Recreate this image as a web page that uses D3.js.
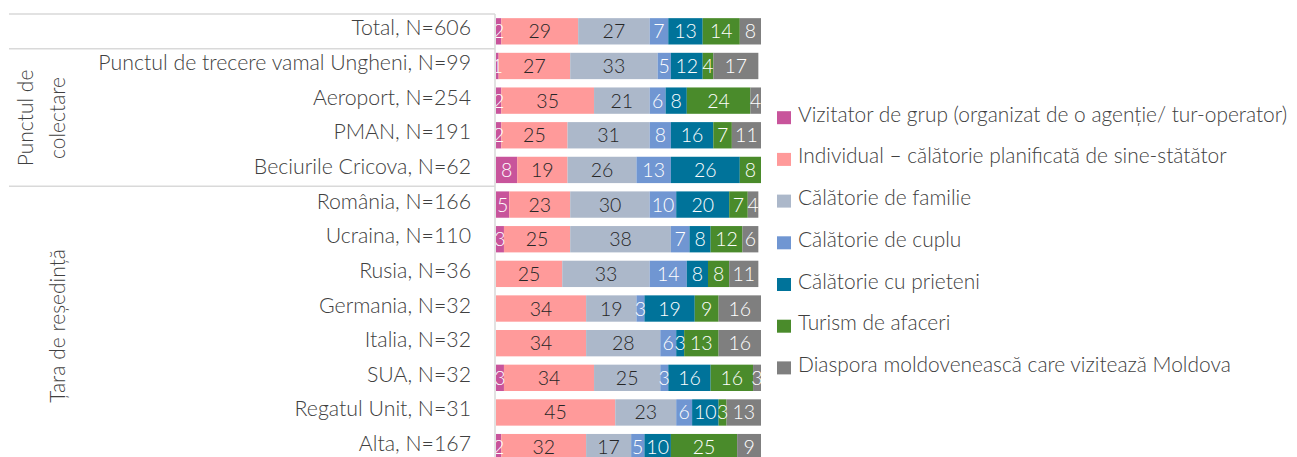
<!DOCTYPE html>
<html>
<head>
<meta charset="utf-8">
<script src="https://cdn.jsdelivr.net/npm/d3@7"></script>
<style>
  body { margin: 0; background: #fff; }
  text { font-family: Lato, "Open Sans", sans-serif; font-weight: 300; }
</style>
</head>
<body>
<div id="chart"></div>
<script>
const rows = ["Total, N=606", "Punctul de trecere vamal Ungheni, N=99", "Aeroport, N=254", "PMAN, N=191",
  "Beciurile Cricova, N=62", "România, N=166", "Ucraina, N=110", "Rusia, N=36", "Germania, N=32",
  "Italia, N=32", "SUA, N=32", "Regatul Unit, N=31", "Alta, N=167"]

const series = ["Vizitator de grup (organizat de o agenție/ tur-operator)",
  "Individual – călătorie planificată de sine-stătător", "Călătorie de familie", "Călătorie de cuplu",
  "Călătorie cu prieteni", "Turism de afaceri", "Diaspora moldovenească care vizitează Moldova"]

const colors = ["#C8549B", "#FF9A9A", "#ACB8CA", "#7096D2", "#00739A", "#4A8B2B", "#7F7F7F"]

// one array per series, same order as rows
const grup      = [2, 1, 2, 2, 8, 5, 3, 0, 0, 0, 3, 0, 2]
const individ   = [29, 27, 35, 25, 19, 23, 25, 25, 34, 34, 34, 45, 32]
const familie   = [27, 33, 21, 31, 26, 30, 38, 33, 19, 28, 25, 23, 17]
const cuplu     = [7, 5, 6, 8, 13, 10, 7, 14, 3, 6, 3, 6, 5]
const prieteni  = [13, 12, 8, 16, 26, 20, 8, 8, 19, 3, 16, 10, 10]
const afaceri   = [14, 4, 24, 7, 8, 7, 12, 8, 9, 13, 16, 3, 25]
const diaspora  = [8, 17, 4, 11, 0, 4, 6, 11, 16, 16, 3, 13, 9]

const groups = [
  { lines: ["Punctul de", "colectare"], from: 1, to: 4 },
  { lines: ["Țara de reședință"], from: 5, to: 12 }
]

const valuesBySeries = [grup, individ, familie, cuplu, prieteni, afaceri, diaspora]

const data = rows.map((r, i) => {
  const d = { row: r }
  series.forEach((s, j) => { d[s] = valuesBySeries[j][i] })
  return d
})

const width = 1297, height = 457

const svg = d3.select("#chart").append("svg")
  .attr("width", width)
  .attr("height", height)

const x = d3.scaleLinear().domain([0, 100]).range([496, 761])
const y = d3.scaleBand().domain(rows).range([14, 14 + 13 * 34.65])
  .paddingInner(0.24).paddingOuter(0.12)
const color = d3.scaleOrdinal().domain(series).range(colors)

const stacked = d3.stack().keys(series)(data)

svg.append("defs").append("clipPath").attr("id", "plot")
  .append("rect").attr("x", x(0)).attr("y", 0).attr("width", x(100) - x(0)).attr("height", height)

const layers = svg.append("g").selectAll("g")
  .data(stacked)
  .join("g")
  .attr("fill", d => color(d.key))

layers.selectAll("rect")
  .data(d => d)
  .join("rect")
  .attr("x", d => x(d[0]))
  .attr("y", d => y(d.data.row))
  .attr("width", d => x(d[1]) - x(d[0]))
  .attr("height", y.bandwidth())

// value labels
const labels = svg.append("g").attr("clip-path", "url(#plot)")
stacked.forEach((layer, j) => {
  labels.selectAll(null)
    .data(layer.filter(d => d[1] - d[0] > 0))
    .join("text")
    .attr("x", d => x((d[0] + d[1]) / 2))
    .attr("y", d => y(d.data.row) + y.bandwidth() / 2 + 7)
    .attr("text-anchor", "middle")
    .style("font-size", "19.5px")
    .style("fill", (j === 1 || j === 2) ? "#262626" : "#fff")
    .text(d => d[1] - d[0])
})

// frame lines
const grid = svg.append("g").attr("stroke", "#d9d9d9").attr("stroke-width", 1.5)
const sep = i => y(rows[i]) - y.step() * y.paddingInner() / 2
grid.append("line").attr("x1", 9).attr("x2", 495).attr("y1", 14).attr("y2", 14)
grid.append("line").attr("x1", 9).attr("x2", 495).attr("y1", sep(1)).attr("y2", sep(1))
grid.append("line").attr("x1", 9).attr("x2", 495).attr("y1", sep(5) - 1).attr("y2", sep(5) - 1)
grid.append("line").attr("x1", 495).attr("x2", 495).attr("y1", 14).attr("y2", height)

// row labels
svg.append("g").selectAll("text")
  .data(rows)
  .join("text")
  .attr("x", 471)
  .attr("y", d => y(d) + y.bandwidth() / 2 + 4)
  .attr("text-anchor", "end")
  .style("font-size", "21.3px")
  .style("fill", "#404040")
  .text(d => d)

// group labels, rotated
groups.forEach(g => {
  const cy = (y(rows[g.from]) + y(rows[g.to]) + y.bandwidth()) / 2
  const t = svg.append("text")
    .attr("transform", `translate(${g.lines.length > 1 ? 33 : 65},${cy}) rotate(-90)`)
    .attr("text-anchor", "middle")
    .style("font-size", "21px")
    .style("fill", "#404040")
  g.lines.forEach((l, k) => {
    t.append("tspan").attr("x", 0).attr("dy", k === 0 ? 0 : 32).text(l)
  })
})

// legend
const legend = svg.append("g").selectAll("g")
  .data(series)
  .join("g")
  .attr("transform", (d, i) => `translate(777,${121.7 + i * 41.7})`)

legend.append("rect")
  .attr("x", 0).attr("y", -10.5)
  .attr("width", 14).attr("height", 13)
  .attr("fill", d => color(d))

legend.append("text")
  .attr("x", 21)
  .attr("y", 0)
  .style("font-size", "20.9px")
  .style("fill", "#404040")
  .text(d => d)
</script>
</body>
</html>
